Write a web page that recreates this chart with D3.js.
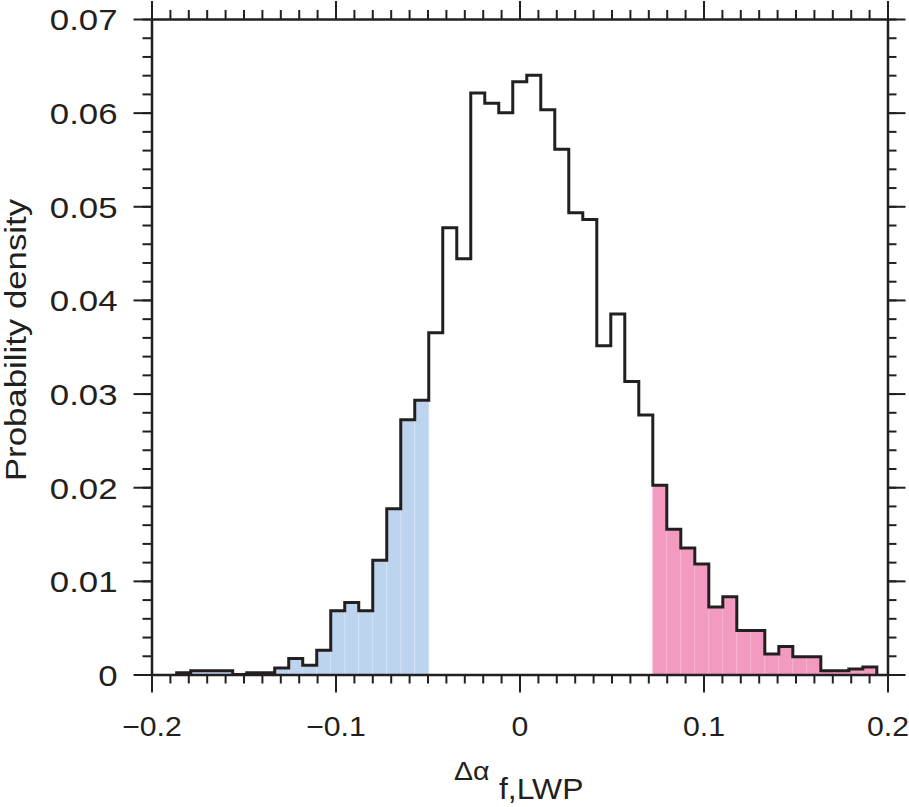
<!DOCTYPE html>
<html>
<head>
<meta charset="utf-8">
<script src="https://cdn.jsdelivr.net/npm/d3@7"></script>
<style>
    body { margin: 0; background: #fff; }
    svg text { font-family: "Liberation Sans", Arial, Helvetica, sans-serif; fill: #231f20; }
</style>
</head>
<body>
<svg id="chart" width="909" height="807"></svg>
<script>
// histogram of delta alpha (f,LWP), 50 bins
let binStart = -0.1863;
let binWidth = 0.00761;
let density = [
    0.0002, 0.0004, 0.0004, 0.0004, 0.0000, 0.0002, 0.0002, 0.0007, 0.0017, 0.0010,
    0.0026, 0.0068, 0.0077, 0.0068, 0.0122, 0.0177, 0.0272, 0.0293, 0.0365, 0.0477,
    0.0444, 0.0621, 0.0610, 0.0600, 0.0633, 0.0640, 0.0603, 0.0561, 0.0493, 0.0486,
    0.0351, 0.0385, 0.0313, 0.0277, 0.0202, 0.0155, 0.0135, 0.0118, 0.0072, 0.0083,
    0.0047, 0.0047, 0.0022, 0.0030, 0.0019, 0.0019, 0.0004, 0.0004, 0.0006, 0.0008
];
// tails that get shaded
let lowTail = -0.049;
let highTail = 0.072;

let xTicks = [-0.2, -0.1, 0, 0.1, 0.2];
let xMinorTicks = d3.range(-20, 21).map(d => d / 100);
let yTicks = [0, 0.01, 0.02, 0.03, 0.04, 0.05, 0.06, 0.07];
let yMinorTicks = d3.range(0, 36).map(d => d * 0.002);

let settings = {
    left: 151.5, right: 887.5, top: 19, bottom: 674.5,
    ink: "#231f20",
    blue: "#bdd4ee", blueEdge: "#d2e2f4",
    pink: "#f39ac0", pinkEdge: "#f6b4d2",
    major: 18, minor: 9,
    stretch: 1.16
};

let svg = d3.select("#chart");

let x = d3.scaleLinear().domain([-0.2, 0.2]).range([settings.left, settings.right]);
let y = d3.scaleLinear().domain([0, 0.07]).range([settings.bottom, settings.top]);

let bins = density.map((v, i) => {
    let x0 = binStart + i * binWidth;
    let mid = x0 + binWidth / 2;
    return {x0: x0, x1: x0 + binWidth, v: v,
        tail: mid < lowTail ? "low" : (mid > highTail ? "high" : null)};
});

// shaded tails
svg.append("g").selectAll("rect")
    .data(bins.filter(d => d.tail))
    .enter().append("rect")
    .attr("x", d => x(d.x0))
    .attr("width", d => x(d.x1) - x(d.x0))
    .attr("y", d => y(d.v))
    .attr("height", d => y(0) - y(d.v))
    .style("fill", d => d.tail === "low" ? settings.blue : settings.pink)
    .style("stroke", d => d.tail === "low" ? settings.blueEdge : settings.pinkEdge)
    .style("stroke-width", 0.8);

// step outline
let pts = [[bins[0].x0, 0]];
bins.forEach(d => pts.push([d.x0, d.v]));
pts.push([bins[bins.length - 1].x1, 0]);

svg.append("path")
    .datum(pts)
    .attr("d", d3.line().x(d => x(d[0])).y(d => y(d[1])).curve(d3.curveStepAfter))
    .style("fill", "none")
    .style("stroke", settings.ink)
    .style("stroke-width", 3)
    .style("stroke-linejoin", "miter");

// axes on all four sides, ticks pointing out
function frame(axisFn, scale, pos, major, minor, labelled) {
    let g = svg.append("g").attr("transform", pos);
    g.append("g")
        .call(axisFn(scale).tickValues(minor).tickSize(settings.minor).tickSizeOuter(0).tickFormat(""))
        .call(g => g.select(".domain").remove());
    let m = g.append("g")
        .call(axisFn(scale).tickValues(major).tickSize(settings.major).tickSizeOuter(0)
            .tickFormat(labelled ? d3.format("~g") : ""));
    g.selectAll(".tick line").style("stroke", settings.ink).style("stroke-width", 2);
    m.select(".domain").style("stroke", settings.ink).style("stroke-width", 2.5);
    return m;
}

let bottomAxis = frame(d3.axisBottom, x, `translate(0,${settings.bottom})`, xTicks, xMinorTicks, true);
frame(d3.axisTop, x, `translate(0,${settings.top})`, xTicks, xMinorTicks, false);
let leftAxis = frame(d3.axisLeft, y, `translate(${settings.left},0)`, yTicks, yMinorTicks, true);
frame(d3.axisRight, y, `translate(${settings.right},0)`, yTicks, yMinorTicks, false);

bottomAxis.selectAll("text")
    .attr("y", null).attr("dy", null)
    .attr("transform", `translate(0,61) scale(1.08,1)`)
    .style("font-size", "28px");

leftAxis.selectAll("text")
    .attr("x", null).attr("dy", "0.36em")
    .attr("transform", `translate(-34,0) scale(${settings.stretch},1)`)
    .style("font-size", "30px");

// labels
svg.append("text")
    .attr("text-anchor", "middle")
    .attr("transform", `translate(26,340) rotate(-90) scale(${settings.stretch},1)`)
    .style("font-size", "30px")
    .text("Probability density");

svg.append("text")
    .attr("transform", `translate(454,780) scale(1.1,1)`)
    .style("font-size", "26px")
    .text("\u0394\u03b1");

svg.append("text")
    .attr("transform", `translate(499,799) scale(1.1,1)`)
    .style("font-size", "29px")
    .text("f,LWP");
</script>
</body>
</html>
